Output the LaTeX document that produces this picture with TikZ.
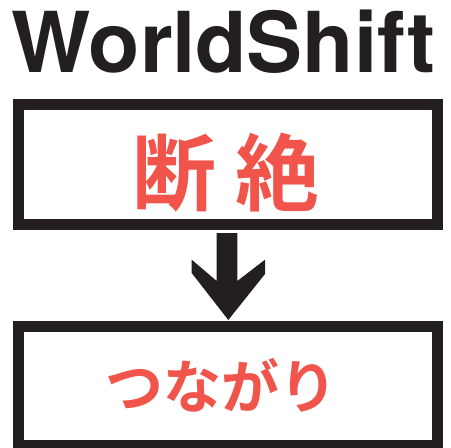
\documentclass[tikz,border=0pt]{standalone}
\usepackage{fontspec}
\setmainfont{TeX Gyre Heros}
\newfontfamily\cjkfont{Noto Sans CJK JP}[BoldFont={* Bold}]
\definecolor{inkblack}{HTML}{231F20}
\definecolor{penred}{HTML}{F0544A}
\begin{document}
\begin{tikzpicture}[x=1pt,y=-1pt,
  framebox/.style={draw=inkblack,line width=11pt},
  redtext/.style={text=penred,inner sep=0pt,anchor=center},
  title/.style={text=inkblack,inner sep=0pt,anchor=base,font=\fontsize{84}{84}\selectfont\bfseries}]
\useasboundingbox (0,0) rectangle (451,448);
\fill[white] (0,0) rectangle (451,448);
\node[title] (head) at (223.5,72) {WorldShift};
\draw[framebox] (18.5,104.5) rectangle (437.5,224.5);
\coordinate (b1) at (228,164.5);
\node[redtext,font=\cjkfont\bfseries\fontsize{84}{84}\selectfont] (t1) at (226,173) {断 絶};
\fill[inkblack] (216.7,233) -- (237.3,233) -- (237.3,281) -- (265,259.7) -- (265,274) -- (228.3,320) -- (191.7,273) -- (191.7,259.7) -- (216.7,281) -- cycle;
\draw[framebox] (18.5,326.5) rectangle (437.5,445.5);
\node[redtext,font=\cjkfont\bfseries\fontsize{58}{58}\selectfont] (t2) at (222,385) {つながり};
\end{tikzpicture}
\end{document}
